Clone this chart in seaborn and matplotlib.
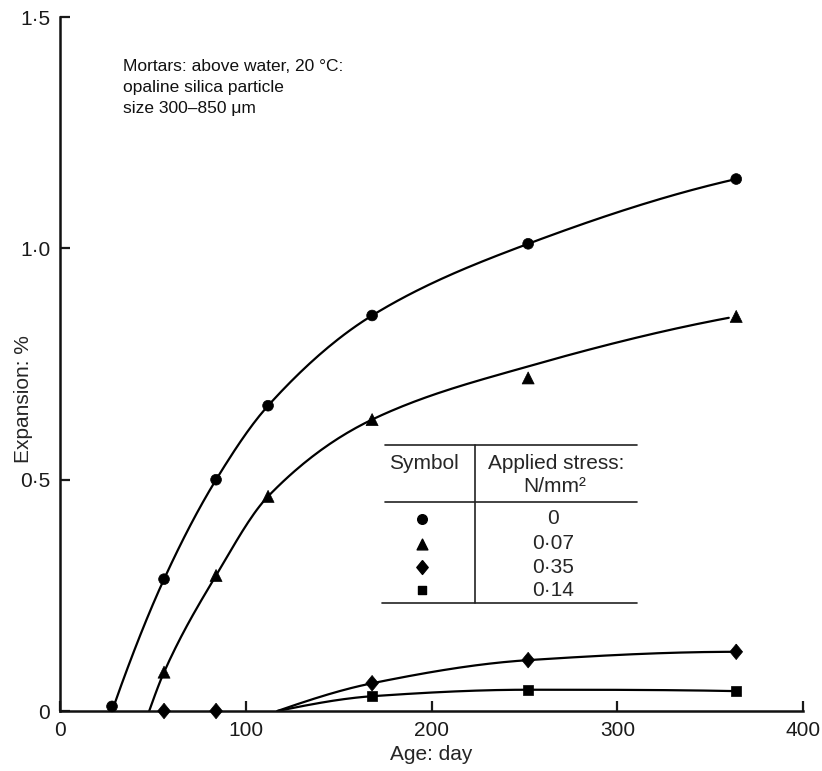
import numpy as np
import pandas as pd
import seaborn as sns
import matplotlib as mpl
import matplotlib.pyplot as plt

# expansion (%), one series per applied stress
days_0 = [28, 56, 84, 112, 168, 252, 364]
exp_0 = [0.01, 0.285, 0.50, 0.66, 0.855, 1.01, 1.15]
days_007 = [56, 84, 112, 168, 252, 364]
exp_007 = [0.084, 0.293, 0.464, 0.63, 0.72, 0.853]
days_035 = [56, 84, 168, 252, 364]
exp_035 = [0.0, 0.0, 0.06, 0.11, 0.128]
days_014 = [168, 252, 364]
exp_014 = [0.032, 0.046, 0.043]

# the hand drawn curves (onset on the axis, then the knots the pen went through)
curve_0_days = [28, 56, 84, 112, 168, 252, 364]
curve_0_vals = [0.0, 0.285, 0.50, 0.66, 0.855, 1.01, 1.15]
curve_007_days = [48, 56, 84, 112, 168, 252, 360]
curve_007_vals = [0.0, 0.084, 0.293, 0.464, 0.63, 0.745, 0.85]
curve_035_days = [117, 168, 252, 364]
curve_035_vals = [0.0, 0.06, 0.11, 0.128]
curve_014_days = [117, 168, 252, 364]
curve_014_vals = [0.0, 0.032, 0.046, 0.043]

stress_labels = ['0', '0·07', '0·35', '0·14']

# a diamond a little narrower than it is tall, like the printed one
diamond = mpl.markers.MarkerStyle(mpl.path.Path([(0, 1), (0.82, 0), (0, -1), (-0.82, 0), (0, 1)]))
markers = {'0': 'o', '0·07': '^', '0·35': diamond, '0·14': 's'}
sizes = {'0': 60, '0·07': 75, '0·35': 125, '0·14': 50}


def pchip(x, y, n=200):
    # monotone cubic so the curve looks like a french-curve drawing
    x = np.asarray(x, float)
    y = np.asarray(y, float)
    h = np.diff(x)
    d = np.diff(y) / h
    m = np.zeros_like(y)
    for k in range(1, len(x) - 1):
        if d[k - 1] * d[k] > 0:
            w1 = 2 * h[k] + h[k - 1]
            w2 = h[k] + 2 * h[k - 1]
            m[k] = (w1 + w2) / (w1 / d[k - 1] + w2 / d[k])

    def end(h0, h1, d0, d1):
        s = ((2 * h0 + h1) * d0 - h0 * d1) / (h0 + h1)
        if np.sign(s) != np.sign(d0):
            s = 0.0
        elif np.sign(d0) != np.sign(d1) and abs(s) > abs(3 * d0):
            s = 3 * d0
        return s

    m[0] = end(h[0], h[1], d[0], d[1])
    m[-1] = end(h[-1], h[-2], d[-1], d[-2])
    xs = np.linspace(x[0], x[-1], n)
    k = np.clip(np.searchsorted(x, xs) - 1, 0, len(h) - 1)
    t = (xs - x[k]) / h[k]
    h00 = 2 * t**3 - 3 * t**2 + 1
    h10 = t**3 - 2 * t**2 + t
    h01 = -2 * t**3 + 3 * t**2
    h11 = t**3 - t**2
    ys = h00 * y[k] + h10 * h[k] * m[k] + h01 * y[k + 1] + h11 * h[k] * m[k + 1]
    return xs, ys


curve_src = [(curve_0_days, curve_0_vals), (curve_007_days, curve_007_vals),
             (curve_035_days, curve_035_vals), (curve_014_days, curve_014_vals)]
point_src = [(days_0, exp_0), (days_007, exp_007), (days_035, exp_035), (days_014, exp_014)]

curves = []
for lab, (cx, cy) in zip(stress_labels, curve_src):
    xs, ys = pchip(cx, cy)
    curves.append(pd.DataFrame({'day': xs, 'exp': ys, 'stress': lab}))
curves = pd.concat(curves, ignore_index=True)

pts = pd.concat([pd.DataFrame({'day': px, 'exp': py, 'stress': lab})
                 for lab, (px, py) in zip(stress_labels, point_src)], ignore_index=True)

sns.set_style('ticks')
plt.rcParams['font.family'] = ['Liberation Sans', 'DejaVu Sans']

fig = plt.figure(figsize=(8.22, 7.71), dpi=100)
ax = fig.add_axes([0.073, 0.0778, 0.904, 0.900])

sns.lineplot(data=curves, x='day', y='exp', units='stress', estimator=None, sort=False,
             color='black', lw=1.6, ax=ax)
sns.scatterplot(data=pts, x='day', y='exp', style='stress', markers=markers,
                size='stress', sizes=sizes, color='black', edgecolor='black', linewidth=0.5,
                legend=False, clip_on=False, zorder=5, ax=ax)

ax.set_xlim(0, 400)
ax.set_ylim(0, 1.5)
ax.set_xticks([0, 100, 200, 300, 400])
ax.set_yticks([0, 0.5, 1.0, 1.5])
ax.set_yticklabels(['0', '0·5', '1·0', '1·5'])
ax.tick_params(direction='in', length=7, width=1.6, labelsize=15, pad=7, colors='#1a1a1a')
sns.despine(ax=ax)
for s in ['left', 'bottom']:
    ax.spines[s].set_linewidth(1.8)
    ax.spines[s].set_color('#111111')

ax.set_xlabel('Age: day', fontsize=15, labelpad=4)
ax.set_ylabel('Expansion: %', fontsize=15, labelpad=4)
ax.yaxis.set_label_coords(-0.037, 0.45)

ax.text(0.085, 0.94, 'Mortars: above water, 20 °C:\nopaline silica particle\nsize 300–850 μm',
        transform=ax.transAxes, fontsize=12.5, va='top', ha='left', linespacing=1.5,
        color='#111111')

# table-style key
tk = dict(transform=ax.transAxes, color='#222222', lw=1.2, clip_on=False)
ax.plot([0.437, 0.777], [0.383, 0.383], **tk)
ax.plot([0.437, 0.777], [0.301, 0.301], **tk)
ax.plot([0.433, 0.777], [0.156, 0.156], **tk)
ax.plot([0.5585, 0.5585], [0.383, 0.156], **tk)
ax.text(0.49, 0.357, 'Symbol', transform=ax.transAxes, fontsize=15, ha='center', va='center')
ax.text(0.668, 0.357, 'Applied stress:', transform=ax.transAxes, fontsize=15, ha='center', va='center')
ax.text(0.666, 0.323, 'N/mm²', transform=ax.transAxes, fontsize=15, ha='center', va='center')
row_y = [0.277, 0.241, 0.2075, 0.174]
for lab, ry in zip(stress_labels, row_y):
    ax.scatter([0.487], [ry], marker=markers[lab], s=sizes[lab] * 0.8, color='black',
               transform=ax.transAxes, clip_on=False)
    ax.text(0.6635, ry, lab, transform=ax.transAxes, fontsize=15, ha='center', va='center')

fig.savefig('out.png', dpi=100)
